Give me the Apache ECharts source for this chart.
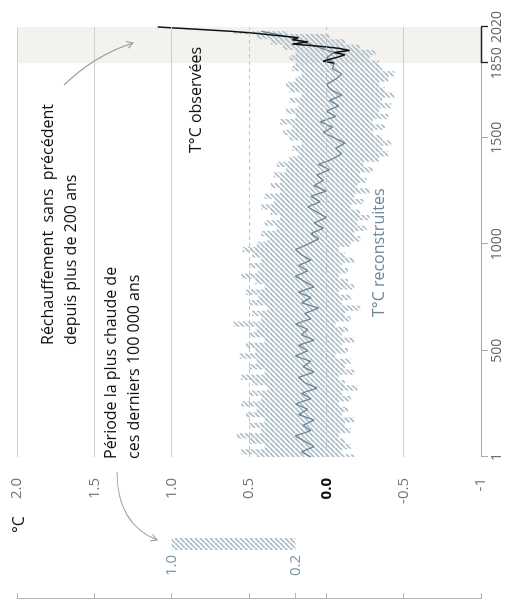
<!DOCTYPE html>
<html><head><meta charset="utf-8">
<script src="https://cdn.jsdelivr.net/npm/echarts@6/dist/echarts.min.js"></script>
<style>
html,body{margin:0;padding:0;background:#fff;overflow:hidden}
#wrap{position:relative;width:514px;height:613px;overflow:hidden;background:#fff}
#chart{position:absolute;left:0;top:0;width:613px;height:514px;transform-origin:0 0;transform:translate(0,613px) rotate(-90deg);}
</style></head>
<body><div id="wrap"><div id="chart"></div></div>
<script>
// ---- data ----
const recYears = [1,25,50,75,100,125,150,175,200,225,250,275,300,325,350,375,400,425,450,475,500,525,550,575,600,625,650,675,700,725,750,775,800,825,850,875,900,925,950,975,1000,1025,1050,1075,1100,1125,1150,1175,1200,1225,1250,1275,1300,1325,1350,1375,1400,1425,1450,1475,1500,1525,1550,1575,1600,1625,1650,1675,1700,1725,1750,1775,1800,1825,1850,1875,1900,1925,1950,1975,2000];
const recMean = [0.10,0.16,0.08,0.14,0.20,0.10,0.15,0.08,0.18,0.12,
 0.20,0.10,0.16,0.06,0.14,0.18,0.08,0.15,0.10,0.20,
 0.12,0.18,0.08,0.16,0.12,0.20,0.10,0.14,0.05,0.16,
 0.10,0.18,0.08,0.14,0.20,0.12,0.18,0.10,0.16,0.20,
 0.12,0.05,0.10,0.02,0.08,0.00,0.06,0.12,0.04,0.10,
 0.00,0.08,0.02,0.06,-0.02,0.05,-0.04,-0.10,-0.06,-0.12,
 -0.05,0.02,-0.04,0.04,-0.06,0.00,-0.08,-0.02,-0.10,-0.03,
 0.00,-0.06,-0.10,-0.04,-0.05,0.00,-0.05,0.05,0.15,0.25,
 0.42];
const recHigh = [0.45,0.55,0.40,0.50,0.58,0.42,0.50,0.40,0.52,0.45,
 0.55,0.42,0.50,0.38,0.48,0.55,0.40,0.50,0.45,0.56,
 0.46,0.52,0.40,0.50,0.45,0.60,0.42,0.48,0.38,0.50,
 0.44,0.52,0.40,0.46,0.55,0.44,0.50,0.42,0.48,0.54,
 0.45,0.38,0.42,0.32,0.40,0.30,0.36,0.42,0.34,0.40,
 0.30,0.36,0.30,0.34,0.26,0.32,0.24,0.18,0.22,0.16,
 0.24,0.28,0.22,0.30,0.20,0.26,0.18,0.24,0.16,0.24,
 0.26,0.20,0.16,0.22,0.20,0.24,0.20,0.28,0.36,0.45,
 0.60];
const recLow = [-0.18,-0.10,-0.16,-0.12,-0.08,-0.16,-0.12,-0.18,-0.10,-0.14,
 -0.08,-0.16,-0.10,-0.20,-0.12,-0.08,-0.18,-0.12,-0.16,-0.06,
 -0.14,-0.10,-0.18,-0.10,-0.14,-0.06,-0.16,-0.12,-0.22,-0.10,
 -0.16,-0.08,-0.18,-0.14,-0.08,-0.14,-0.10,-0.18,-0.12,-0.08,
 -0.16,-0.22,-0.18,-0.26,-0.20,-0.28,-0.22,-0.16,-0.24,-0.18,
 -0.28,-0.20,-0.26,-0.22,-0.30,-0.24,-0.34,-0.40,-0.36,-0.42,
 -0.36,-0.30,-0.38,-0.30,-0.40,-0.34,-0.42,-0.36,-0.44,-0.38,
 -0.34,-0.40,-0.44,-0.36,-0.34,-0.28,-0.32,-0.22,-0.12,-0.02,
 0.25];
const obsYears = [1850,1860,1870,1880,1890,1900,1910,1920,1930,1940,1950,1960,1970,1980,1990,2000,2010,2020];
const obsTemp = [-0.05,0.02,-0.03,-0.08,-0.12,-0.05,-0.15,-0.08,0.05,0.22,0.12,0.22,0.18,0.32,0.45,0.62,0.85,1.09];
const yearTickVals = [1,500,1000,1500,1850,2020];
const tempTickVals = [-1,-0.5,0,0.5,1,1.5,2];
const tempTickLabels = ['-1','-0.5','0.0','0.5','1.0','1.5','2.0'];
const warmRange = [0.2, 1.0];
const warmRangeLabels = ['0.2','1.0'];
const recentPeriod = [1850, 2020];

// ---- styles ----
const FONT = '"Open Sans", "Noto Sans", sans-serif';
function makeHatch(color){
  const N=5, c=document.createElement('canvas'); c.width=N; c.height=N;
  const g=c.getContext('2d'); g.strokeStyle=color; g.lineWidth=1.8;
  for (const k of [-N,0,N]) { g.beginPath(); g.moveTo(k, N); g.lineTo(k+N, 0); g.stroke(); }
  return {image:c, repeat:'repeat'};
}
const hatch = makeHatch('#aebfca');
function arrow(S, C, E, color){
  const dx=E[0]-C[0], dy=E[1]-C[1], L=Math.hypot(dx,dy), ux=dx/L, uy=dy/L, a=Math.PI/6, len=7;
  const w1=[E[0]-len*(ux*Math.cos(a)-uy*Math.sin(a)), E[1]-len*(uy*Math.cos(a)+ux*Math.sin(a))];
  const w2=[E[0]-len*(ux*Math.cos(a)+uy*Math.sin(a)), E[1]-len*(uy*Math.cos(a)-ux*Math.sin(a))];
  return [
    {type:'bezierCurve', z:100, silent:true, shape:{x1:S[0],y1:S[1],x2:E[0],y2:E[1],cpx1:C[0],cpy1:C[1]}, style:{stroke:color, fill:null, lineWidth:1.1}},
    {type:'polyline', z:100, silent:true, shape:{points:[w1,E,w2]}, style:{stroke:color, fill:null, lineWidth:1.1}}
  ];
}
function txt(x, y, text, size, color){
  return {type:'text', x:x, y:y, z:100, silent:true, style:{text:text, font:size+'px '+FONT, fill:color, lineHeight:23, align:'left', verticalAlign:'top', textAlign:'left', textVerticalAlign:'top'}};
}

const zip = (a,b) => a.map((v,i)=>[v,b[i]]);
// stepped band cells: [yearStart, yearEnd, low, high]
const bandData = recYears.map((y,i)=>{
  const x0 = i===0 ? y : (recYears[i-1]+y)/2;
  const x1 = i===recYears.length-1 ? y : (y+recYears[i+1])/2;
  return [x0, x1, recLow[i], recHigh[i]];
});

function renderBand(params, api){
  if (params.dataIndex !== 0) return null;
  const top = [], bottom = [];
  bandData.forEach(d=>{
    top.push(api.coord([d[0], d[3]]), api.coord([d[1], d[3]]));
    bottom.push(api.coord([d[0], d[2]]), api.coord([d[1], d[2]]));
  });
  const pts = top.concat(bottom.reverse());
  return {type:'polygon', shape:{points:pts}, style:{fill:hatch, stroke:null}};
}

const chart = echarts.init(document.getElementById('chart'), null, {renderer:'canvas'});
const option = {
  animation:false,
  backgroundColor:'#fff',
  grid:[
    {left:156, top:17, width:430, height:464},
    {left:63, top:17, width:12, height:464}
  ],
  xAxis:[
    {gridIndex:0, type:'value', min:1, max:2020, position:'bottom',
     axisLine:{show:false, onZero:false}, splitLine:{show:false},
     axisTick:{show:true, length:7, customValues:[1,500,1000,1500], lineStyle:{color:'#aaaaaa'}},
     axisLabel:{customValues:yearTickVals, color:'#666', fontSize:14, fontFamily:FONT, margin:9, formatter:v=>String(v)}},
    {gridIndex:0, type:'value', min:1, max:2020, position:'bottom',
     axisLine:{show:false, onZero:false}, splitLine:{show:false},
     axisTick:{show:true, length:7, customValues:recentPeriod, lineStyle:{color:'#222', width:1.3}},
     axisLabel:{show:false}},
    {gridIndex:1, type:'category', data:['r'], show:false}
  ],
  yAxis:[
    {gridIndex:0, type:'value', min:-1, max:2, interval:0.5,
     axisLine:{show:false}, axisTick:{show:false}, splitLine:{show:false},
     axisLabel:{margin:21, fontSize:15, fontFamily:FONT, color:'#777',
       formatter:v=>{const i=tempTickVals.indexOf(v); const s=i>=0?tempTickLabels[i]:String(v); return v===0?'{z|'+s+'}':s;},
       rich:{z:{color:'#111', fontWeight:'bold', fontSize:15, fontFamily:FONT}}}},
    {gridIndex:1, type:'value', min:-1, max:2,
     axisLine:{show:false}, axisTick:{show:false}, splitLine:{show:false},
     axisLabel:{customValues:warmRange, margin:5, fontSize:15, fontFamily:FONT, color:'#7d95a5',
       formatter:v=>warmRangeLabels[warmRange.indexOf(v)]}},
    {gridIndex:0, type:'value', min:-1, max:2, position:'left', offset:142,
     axisLine:{show:true, lineStyle:{color:'#b5b5b5'}},
     axisTick:{show:true, inside:true, length:6, customValues:[-1,-0.5,0,0.2,0.5,1,1.5,2], lineStyle:{color:'#b5b5b5'}},
     axisLabel:{show:false}, splitLine:{show:false}}
  ],
  series:[
    {name:'frame', type:'line', xAxisIndex:0, yAxisIndex:0, data:zip(recYears, recMean),
     symbol:'none', clip:false, z:1, lineStyle:{opacity:0, width:0},
     markArea:{silent:true, itemStyle:{color:'#f4f2ef'}, data:[[{xAxis:recentPeriod[0], yAxis:2},{xAxis:recentPeriod[1], yAxis:-1}]]},
     markLine:{silent:true, symbol:['none','none'], label:{show:false},
       data:[
         {yAxis:2, lineStyle:{color:'#cfcfcf', type:'solid', width:1}},
         {yAxis:1.5, lineStyle:{color:'#cfcfcf', type:'solid', width:1}},
         {yAxis:1, lineStyle:{color:'#cfcfcf', type:'solid', width:1}},
         {yAxis:0.5, lineStyle:{color:'#c4c4c4', type:[4,3], width:1}},
         {yAxis:0, lineStyle:{color:'#c4c4c4', type:[4,3], width:1}},
         {yAxis:-0.5, lineStyle:{color:'#cfcfcf', type:'solid', width:1}},
         [{coord:[1,-1], lineStyle:{color:'#aaaaaa', type:'solid', width:1}},{coord:[recentPeriod[0],-1]}],
         [{coord:[recentPeriod[0],-1], lineStyle:{color:'#222', type:'solid', width:1.3}},{coord:[recentPeriod[1],-1]}]
       ]}},
    {name:'range', type:'custom', xAxisIndex:0, yAxisIndex:0, data:bandData,
     encode:{x:[0,1], y:[2,3]}, renderItem:renderBand, z:2, silent:true},
    {name:'rec', type:'line', xAxisIndex:0, yAxisIndex:0, data:zip(recYears, recMean),
     symbol:'none', z:3, lineStyle:{color:'#6b8596', width:1.3}},
    {name:'obs', type:'line', xAxisIndex:0, yAxisIndex:0, data:zip(obsYears, obsTemp),
     symbol:'none', z:4, lineStyle:{color:'#111', width:1.5}},
    {name:'legBase', type:'bar', xAxisIndex:2, yAxisIndex:1, stack:'leg', barWidth:'100%',
     data:[warmRange[0]], itemStyle:{color:'rgba(0,0,0,0)'}, silent:true},
    {name:'legRange', type:'bar', xAxisIndex:2, yAxisIndex:1, stack:'leg', barWidth:'100%',
     data:[warmRange[1]-warmRange[0]], itemStyle:{color:hatch}, silent:true}
  ],
  graphic:[
    txt(80, 8, '°C', 16, '#111'),
    txt(268, 37, 'Réchauffement  sans  précédent\ndepuis plus de 200 ans', 16, '#111'),
    txt(154, 100, 'Période la plus chaude de\nces derniers 100 000 ans', 16, '#111'),
    txt(460, 185, 'T°C observées', 16, '#111'),
    txt(296, 368, 'T°C reconstruites', 16, '#6e8797'),
    ...arrow([528,64],[558,95],[570,133],'#a0a0a0'),
    ...arrow([141,117],[89,117],[73,157],'#a0a0a0')
  ]
};
chart.setOption(option);
</script>
</body></html>
